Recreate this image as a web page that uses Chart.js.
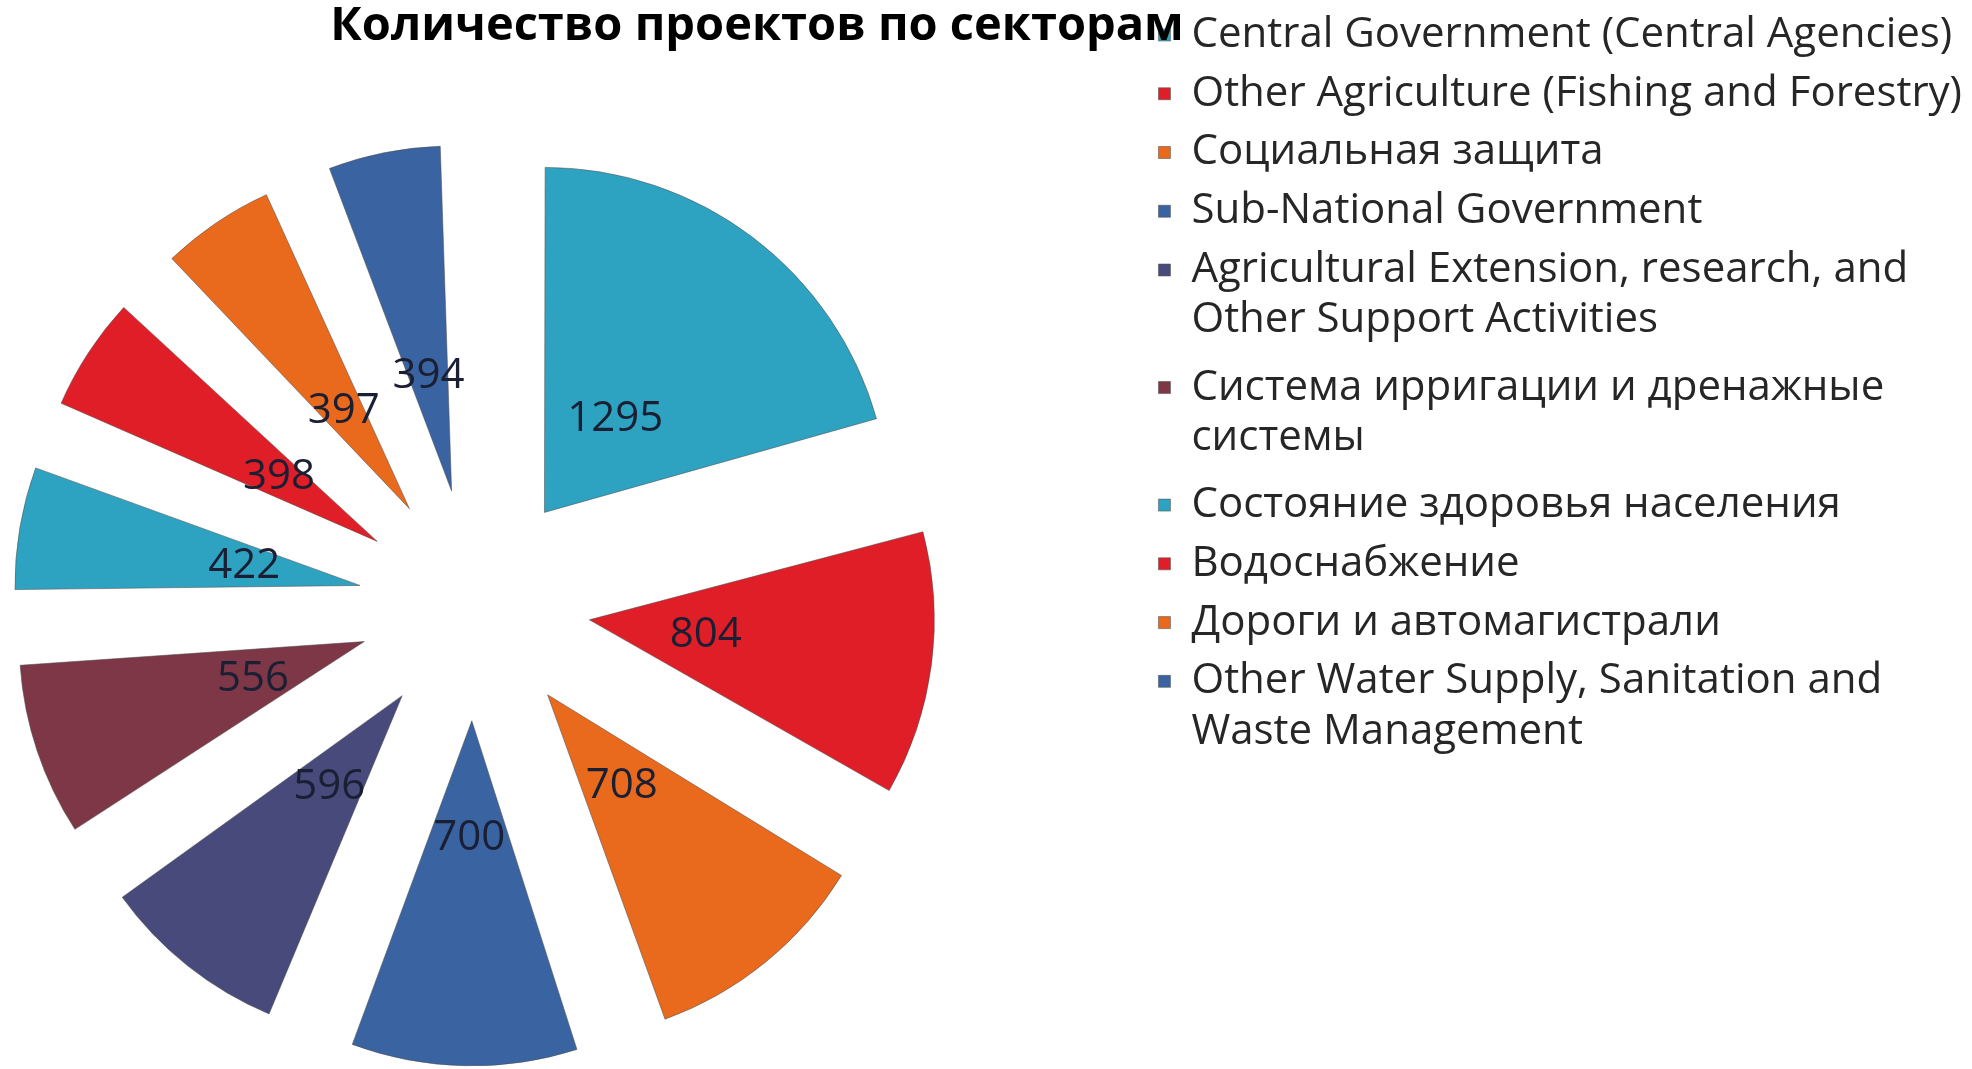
<!DOCTYPE html>
<html>
<head>
<meta charset="utf-8">
<script src="https://cdn.jsdelivr.net/npm/chart.js@4.4.1/dist/chart.umd.min.js"></script>
<style>
  html, body { margin: 0; padding: 0; background: #fff; }
  #wrap { width: 1972px; height: 1069px; position: relative; }
</style>
</head>
<body>
<div id="wrap"><canvas id="pieChart"></canvas></div>
<script>
let sectorLabels = [
  "Central Government (Central Agencies)",
  "Other Agriculture (Fishing and Forestry)",
  "Социальная защита",
  "Sub-National Government",
  ["Agricultural Extension, research, and", "Other Support Activities"],
  ["Система ирригации и дренажные", "системы"],
  "Состояние здоровья населения",
  "Водоснабжение",
  "Дороги и автомагистрали",
  ["Other Water Supply, Sanitation and", "Waste Management"]
];
let projectCounts = [1295, 804, 708, 700, 596, 556, 422, 398, 397, 394];
let sliceColors = ["#2ea3c1", "#e01e28", "#ea6a1d", "#3a64a1", "#474a7b", "#7e3747", "#2ea3c1", "#e01e28", "#ea6a1d", "#3a64a1"];

const PIE_RADIUS = 345;
const EXPLODE = 464; // chart.js moves a slice by offset / 4
const LEGEND_GAP = 193; // empty room between the pie area and the legend

// chart.js makes narrow exploded slices longer, pull them back to one radius
const evenRadius = {
  id: "evenRadius",
  afterDatasetsUpdate(chart) {
    chart.getDatasetMeta(0).data.forEach(arc => {
      let shift = (arc.options.offset || 0) / 4;
      let fix = 1 - Math.sin(Math.min(Math.PI, arc.circumference));
      arc.outerRadius = PIE_RADIUS - shift * fix;
    });
  }
};

// an empty layout box that sits between the chart area and the legend
const legendGap = {
  id: "legendGap",
  beforeInit(chart) {
    Chart.layouts.addBox(chart, {
      position: "right",
      weight: 0,
      fullSize: false,
      options: { display: false }, // not counted when the legend width is shared out
      update(maxWidth, maxHeight) { this.width = LEGEND_GAP; this.height = maxHeight; },
      isHorizontal() { return false; },
      draw() {}
    });
  }
};

// value labels inside the slices
const sliceValues = {
  id: "sliceValues",
  afterDatasetsDraw(chart) {
    let ctx = chart.ctx;
    let meta = chart.getDatasetMeta(0);
    ctx.save();
    ctx.font = "42px 'Open Sans'";
    ctx.fillStyle = "#1b1f33";
    ctx.textAlign = "center";
    ctx.textBaseline = "middle";
    meta.data.forEach((arc, i) => {
      let mid = (arc.startAngle + arc.endAngle) / 2;
      let dist = (arc.options.offset || 0) / 4 + PIE_RADIUS * 0.34;
      ctx.fillText(projectCounts[i], arc.x + Math.cos(mid) * dist, arc.y + Math.sin(mid) * dist);
    });
    ctx.restore();
  }
};

let ctx = document.getElementById("pieChart").getContext("2d");
new Chart(ctx, {
  type: "pie",
  data: {
    labels: sectorLabels,
    datasets: [{
      data: projectCounts,
      backgroundColor: sliceColors,
      borderColor: "rgba(80,80,80,0.55)",
      borderWidth: 1,
      offset: EXPLODE,
      hoverOffset: 0,
      radius: PIE_RADIUS
    }]
  },
  options: {
    responsive: true,
    maintainAspectRatio: false,
    animation: false,
    layout: { padding: { left: -458, right: 0, top: -2.75, bottom: 0 } },
    plugins: {
      title: {
        display: true,
        text: "Количество проектов по секторам",
        align: "center",
        fullSize: true,
        color: "#000",
        font: { family: "'Open Sans'", size: 47, weight: "bold" },
        padding: { top: 1, bottom: 86 }
      },
      legend: {
        position: "right",
        align: "start",
        labels: {
          color: "#262626",
          font: { family: "'Open Sans'", size: 42, lineHeight: 1.2 },
          boxWidth: 12,
          boxHeight: 12,
          padding: 16.75
        }
      },
      tooltip: { enabled: false }
    }
  },
  plugins: [evenRadius, legendGap, sliceValues]
});
</script>
</body>
</html>
